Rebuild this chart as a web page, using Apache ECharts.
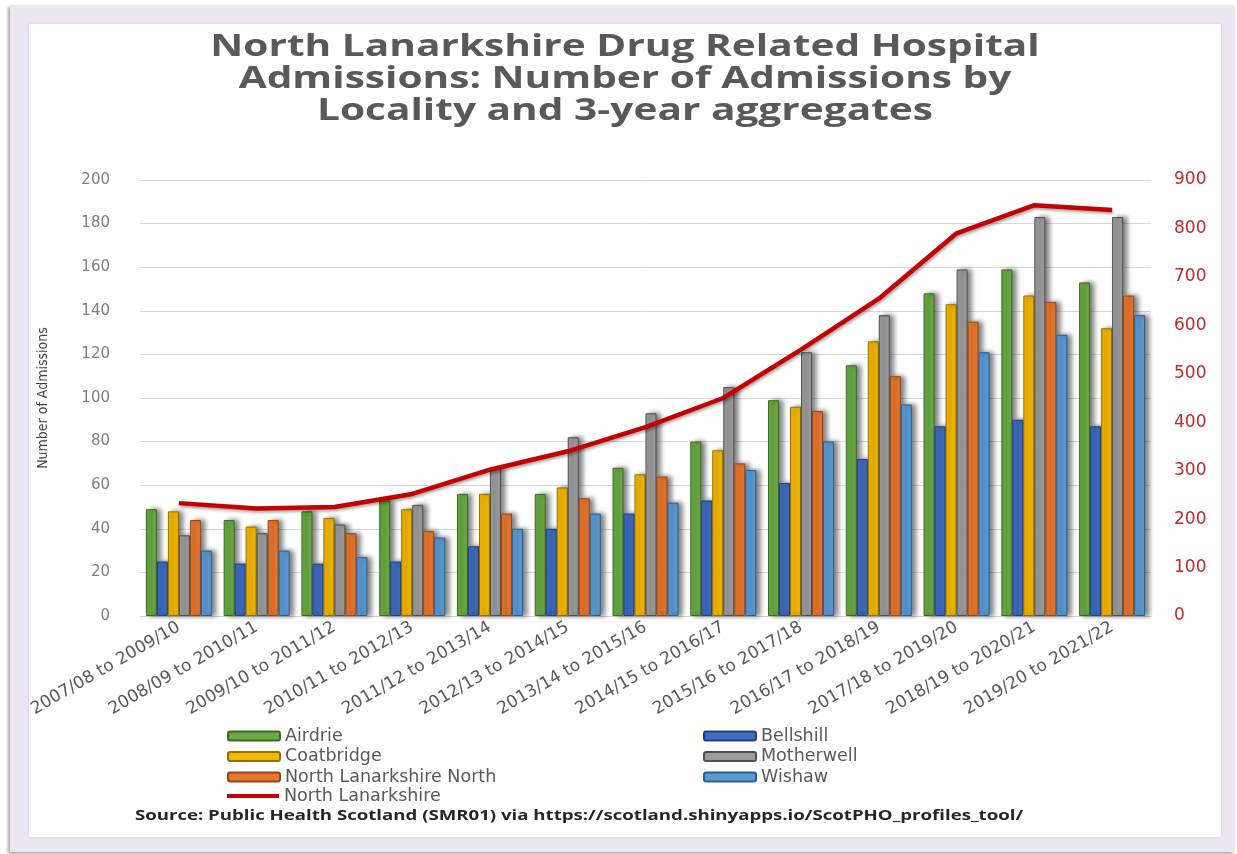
<!DOCTYPE html>
<html>
<head>
<meta charset="utf-8">
<script src="https://cdn.jsdelivr.net/npm/echarts@6/dist/echarts.min.js"></script>
<style>
  html, body { margin: 0; padding: 0; background: #ffffff; }
  #frame { position: absolute; left: 10px; top: 5px; width: 1225px; height: 847px; background: #ece6f2;
           box-shadow: -2px 2px 3px rgba(0,0,0,0.35); }
  #panel { position: absolute; left: 29px; top: 24px; width: 1192px; height: 813px; background: #ffffff;
           box-shadow: 0 0 3px rgba(0,0,0,0.12); }
  #chart { position: absolute; left: 0; top: 0; width: 1237px; height: 854px; }
</style>
</head>
<body>
<div id="frame"></div>
<div id="panel"></div>
<div id="chart"></div>
<script>
const categories = [
  '2007/08 to 2009/10', '2008/09 to 2010/11', '2009/10 to 2011/12', '2010/11 to 2012/13',
  '2011/12 to 2013/14', '2012/13 to 2014/15', '2013/14 to 2015/16', '2014/15 to 2016/17',
  '2015/16 to 2017/18', '2016/17 to 2018/19', '2017/18 to 2019/20', '2018/19 to 2020/21',
  '2019/20 to 2021/22'
];
const airdrie     = [49, 44, 48, 53, 56, 56, 68, 80, 99, 115, 148, 159, 153];
const bellshill   = [25, 24, 24, 25, 32, 40, 47, 53, 61, 72, 87, 90, 87];
const coatbridge  = [48, 41, 45, 49, 56, 59, 65, 76, 96, 126, 143, 147, 132];
const motherwell  = [37, 38, 42, 51, 68, 82, 93, 105, 121, 138, 159, 183, 183];
const nlNorth     = [44, 44, 38, 39, 47, 54, 64, 70, 94, 110, 135, 144, 147];
const wishaw      = [30, 30, 27, 36, 40, 47, 52, 67, 80, 97, 121, 129, 138];
const northLanarkshire = [233, 222, 225, 252, 302, 340, 390, 450, 550, 655, 790, 848, 838];
const leftTicks = { min: 0, max: 200, interval: 20 };
const rightTicks = { min: 0, max: 900, interval: 100 };

const barStyle = (fill, border) => ({
  color: fill, borderColor: border, borderWidth: 1,
  shadowColor: 'rgba(0,0,0,0.5)', shadowBlur: 5, shadowOffsetX: 4, shadowOffsetY: 0
});
function bar(name, data, fill, border) {
  return { name, type: 'bar', data, yAxisIndex: 0, barWidth: 11, barGap: '0%',
           itemStyle: barStyle(fill, border), z: 2 };
}

const chart = echarts.init(document.getElementById('chart'), null, { renderer: 'canvas' });
const legendText = { fontFamily: 'DejaVu Sans', fontSize: 17.5, lineHeight: 16, color: '#595959' };
const legendBase = { orient: 'vertical', itemGap: 2.5, itemWidth: 52, itemHeight: 9, textStyle: legendText };
chart.setOption({
  backgroundColor: 'transparent',
  animation: false,
  graphic: [{
    type: 'text', x: 625, y: 31, scaleX: 1.31,
    style: { text: 'North Lanarkshire Drug Related Hospital\nAdmissions: Number of Admissions by\nLocality and 3-year aggregates',
             font: 'bold 31px "Open Sans"', lineHeight: 32, fill: '#595959', align: 'center', textAlign: 'center' }
  }, {
    type: 'text', x: 579, y: 809, scaleX: 1.33,
    style: { text: 'Source: Public Health Scotland (SMR01) via https://scotland.shinyapps.io/ScotPHO_profiles_tool/',
             font: 'bold 14px "Open Sans"', fill: '#262626', align: 'center', textAlign: 'center' }
  }],
  grid: { left: 140, right: 86, top: 180, bottom: 238 },
  legend: [
    Object.assign({ left: 222, top: 722, data: ['Airdrie', 'Coatbridge', 'North Lanarkshire North'] }, legendBase),
    Object.assign({ left: 698, top: 722, data: ['Bellshill', 'Motherwell', 'Wishaw'] }, legendBase),
    Object.assign({}, legendBase, { left: 222, top: 782, itemHeight: 4,
      data: [{ name: 'North Lanarkshire', icon: 'rect' }] })
  ],
  xAxis: {
    type: 'category', data: categories,
    axisLine: { lineStyle: { color: '#d0d0d0' } },
    axisTick: { show: false },
    axisLabel: { interval: 0, rotate: 30, margin: 10, fontFamily: 'DejaVu Sans', fontSize: 17, color: '#595959' }
  },
  yAxis: [{
    type: 'value', min: leftTicks.min, max: leftTicks.max, interval: leftTicks.interval,
    name: 'Number of Admissions', nameLocation: 'middle', nameGap: 90,
    nameTextStyle: { fontFamily: '"DejaVu Sans Condensed", "Liberation Sans"', fontSize: 14, color: '#404040' },
    axisLine: { show: false }, axisTick: { show: false },
    axisLabel: { margin: 30, fontFamily: 'DejaVu Sans', fontSize: 15, color: '#7f7f7f' },
    splitLine: { lineStyle: { color: '#d9d9d9' } }
  }, {
    type: 'value', min: rightTicks.min, max: rightTicks.max, interval: rightTicks.interval,
    position: 'right',
    axisLine: { show: false }, axisTick: { show: false },
    axisLabel: { margin: 23, fontFamily: 'DejaVu Sans', fontSize: 17, color: '#c0282d' },
    splitLine: { show: false }
  }],
  series: [
    bar('Airdrie', airdrie, '#6aaa44', '#3b6a22'),
    bar('Bellshill', bellshill, '#3f6cc0', '#1f3f7e'),
    bar('Coatbridge', coatbridge, '#f5b800', '#8f7000'),
    bar('Motherwell', motherwell, '#9d9d9d', '#505050'),
    bar('North Lanarkshire North', nlNorth, '#e8772e', '#93471a'),
    bar('Wishaw', wishaw, '#5b9bd5', '#2c5f8e'),
    {
      name: 'North Lanarkshire', type: 'line', data: northLanarkshire, yAxisIndex: 1,
      symbol: 'none', z: 5,
      lineStyle: { color: '#c40000', width: 4.5, shadowColor: 'rgba(0,0,0,0.35)', shadowBlur: 3, shadowOffsetX: 1, shadowOffsetY: 2 },
      itemStyle: { color: '#c40000' }
    }
  ]
});
</script>
</body>
</html>
